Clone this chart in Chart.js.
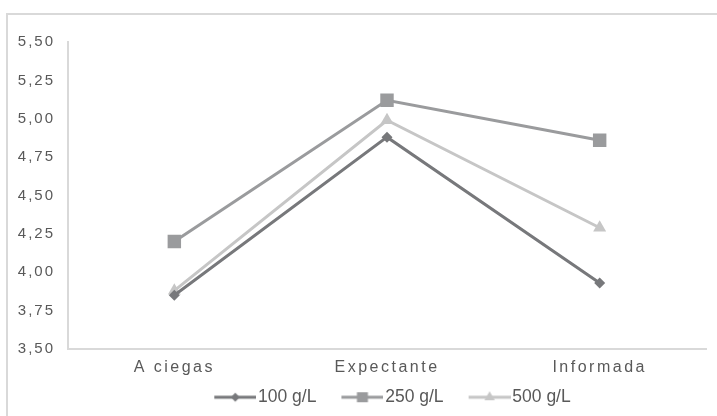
<!DOCTYPE html>
<html><head><meta charset="utf-8">
<script src="https://cdn.jsdelivr.net/npm/chart.js@4/dist/chart.umd.min.js"></script>
<style>
html,body{margin:0;padding:0;background:#fff;overflow:hidden}
#wrap{position:relative;width:717px;height:416px;overflow:hidden}
#frame{position:absolute;left:6px;top:13px;width:800px;height:500px;border-top:2px solid #d9d9d9;border-left:2px solid #d9d9d9}
canvas{position:absolute;left:0;top:0}
</style></head><body>
<div id="wrap"><div id="frame"></div><canvas id="c" width="717" height="416"></canvas></div>
<script>
const categories = ['A ciegas', 'Expectante', 'Informada'];
const seriesNames = ['100 g/L', '250 g/L', '500 g/L'];
const values100 = [3.85, 4.88, 3.93];
const values250 = [4.20, 5.12, 4.86];
const values500 = [3.88, 4.99, 4.29];
const yTickValues = [3.50, 3.75, 4.00, 4.25, 4.50, 4.75, 5.00, 5.25, 5.50];

const colors = ['#77787b', '#9a9b9d', '#c6c6c6'];
const styles = ['rectRot', 'rect', 'triangle'];
const radii = [5.5, 9.5, 7.5];
const FONT = '"Liberation Sans", Arial, sans-serif';
const TEXT = '#595959';

// letter-spaced axis labels
if (Chart.Scale && Chart.Scale.prototype.drawLabels) {
  const orig = Chart.Scale.prototype.drawLabels;
  Chart.Scale.prototype.drawLabels = function (area) {
    const ctx = this.ctx;
    ctx.save();
    ctx.letterSpacing = this.axis === 'x' ? '2.5px' : '2px';
    orig.call(this, area);
    ctx.restore();
  };
}

// legend icons: line with marker
function makeIcon(i) {
  const c = document.createElement('canvas');
  c.width = 64; c.height = 14;
  const g = c.getContext('2d');
  const cy = 7, x0 = 22, x1 = 64, cx = (x0 + x1) / 2;
  g.strokeStyle = colors[i]; g.lineWidth = 3;
  g.beginPath(); g.moveTo(x0, cy); g.lineTo(x1, cy); g.stroke();
  g.fillStyle = colors[i];
  g.beginPath();
  if (i === 0) { const r = 4.5; g.moveTo(cx - r, cy); g.lineTo(cx, cy - r); g.lineTo(cx + r, cy); g.lineTo(cx, cy + r); }
  else if (i === 1) { g.rect(cx - 5.5, cy - 5, 11, 10); }
  else { const r = 6; g.moveTo(cx, cy - r); g.lineTo(cx + r * 0.866, cy + r * 0.5); g.lineTo(cx - r * 0.866, cy + r * 0.5); }
  g.closePath(); g.fill();
  return c;
}
const icons = [0, 1, 2].map(makeIcon);

const seriesValues = [values100, values250, values500];
const datasets = seriesNames.map((name, i) => ({
  label: name,
  data: seriesValues[i],
  borderColor: colors[i],
  backgroundColor: colors[i],
  borderWidth: 3,
  pointStyle: styles[i],
  pointRadius: radii[i],
  pointBorderWidth: 0,
  pointBackgroundColor: colors[i],
  tension: 0,
  fill: false
}));

const legendShift = {
  id: 'legendShift',
  afterLayout(chart) {
    if (chart.legend) { chart.legend.left += 32; chart.legend.right += 32; }
  }
};

new Chart(document.getElementById('c'), {
  type: 'line',
  data: { labels: categories, datasets },
  plugins: [legendShift],
  options: {
    responsive: false,
    animation: false,
    events: [],
    layout: { padding: { left: 0, right: 11, top: 42, bottom: 0 } },
    plugins: {
      tooltip: { enabled: false },
      legend: {
        position: 'bottom',
        labels: {
          usePointStyle: true,
          pointStyleWidth: 50,
          padding: 10,
          color: TEXT,
          font: { family: FONT, size: 17.5 },
          generateLabels: chart => chart.data.datasets.map((ds, i) => ({
            text: ds.label, pointStyle: icons[i], fillStyle: colors[i], strokeStyle: colors[i],
            lineWidth: 0, hidden: false, datasetIndex: i, fontColor: TEXT
          }))
        }
      }
    },
    scales: {
      x: {
        offset: true,
        grid: { display: false, drawTicks: false },
        border: { display: true, color: '#d9d9d9', width: 2 },
        ticks: { color: TEXT, font: { family: FONT, size: 16 }, padding: 9, maxRotation: 0 },
        afterFit: s => { s.height = 29.5; }
      },
      y: {
        min: 3.5, max: 5.5,
        grid: { display: false, drawTicks: false },
        border: { display: true, color: '#d9d9d9', width: 2 },
        afterBuildTicks: s => { s.ticks = yTickValues.map(v => ({ value: v })); },
        ticks: {
          color: TEXT, font: { family: FONT, size: 15 }, padding: 13,
          callback: v => Number(v).toFixed(2).replace('.', ',')
        },
        afterFit: s => { s.width = 68; }
      }
    }
  }
});
</script>
</body></html>
